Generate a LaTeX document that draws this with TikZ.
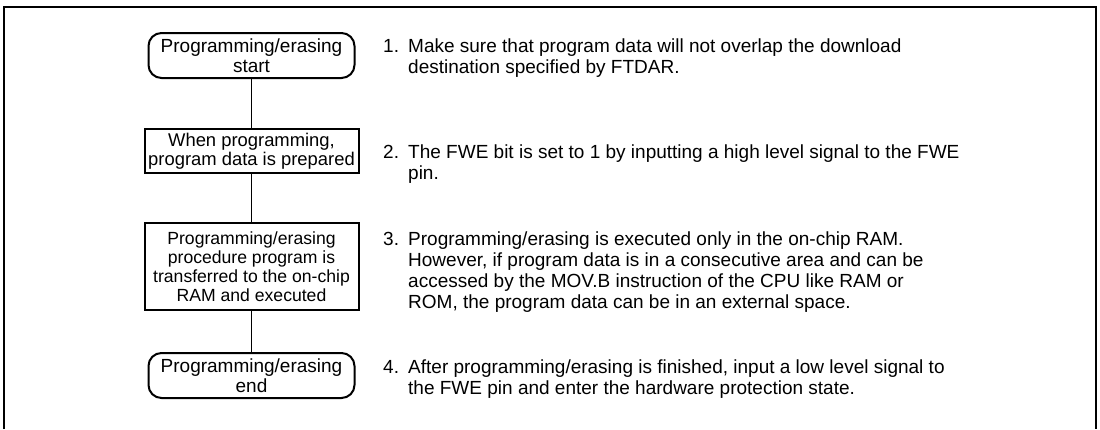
\documentclass[tikz,border=0pt]{standalone}
\usepackage{fontspec}
\setmainfont{Liberation Sans}
\newcommand{\boxfont}{\fontsize{19}{20}\selectfont}
\newcommand{\midfont}{\fontsize{18.4}{19.5}\selectfont}
\newcommand{\smallboxfont}{\fontsize{17.6}{19}\selectfont}
\newcommand{\descfont}{\fontsize{19}{21}\selectfont}
\begin{document}
\begin{tikzpicture}[x=1pt,y=-1pt,
  term/.style={draw, line width=2pt, rounded corners=13pt, align=center, inner sep=0pt,
    minimum width=206pt, minimum height=45pt, font=\boxfont},
  proc/.style={draw, line width=2pt, align=center, inner sep=0pt,
    minimum width=214pt},
  conn/.style={line width=1pt},
  desc/.style={anchor=base west, inner sep=0pt, font=\descfont}]
\useasboundingbox (0,0) rectangle (1100,429);
\draw[line width=2pt] (4,429) -- (4,7) -- (1096,7) -- (1096,429);

\node[term] (start) at (251.5,55.5) {Programming/erasing\\start};
\node[proc, minimum height=44pt, font=\midfont] (prep) at (251.5,151) {When programming,\\program data is prepared};
\node[proc, minimum height=87pt, font=\smallboxfont] (xfer) at (251.5,266.5) {Programming/erasing\\procedure program is\\transferred to the on-chip\\RAM and executed};
\node[term] (stop) at (251.5,375.5) {Programming/erasing\\end};

\draw[conn] (start) -- (prep);
\draw[conn] (prep) -- (xfer);
\draw[conn] (xfer) -- (stop);

\node[desc] (n1) at (383,52) {1.};
\node[desc] (t1a) at (408,52) {Make sure that program data will not overlap the download};
\node[desc] (t1b) at (408,73) {destination specified by FTDAR.};

\node[desc] (n2) at (383,158) {2.};
\node[desc] (t2a) at (408,158) {The FWE bit is set to 1 by inputting a high level signal to the FWE};
\node[desc] (t2b) at (408,179) {pin.};

\node[desc] (n3) at (383,245) {3.};
\node[desc] (t3a) at (408,245) {Programming/erasing is executed only in the on-chip RAM.};
\node[desc] (t3b) at (408,266) {However, if program data is in a consecutive area and can be};
\node[desc] (t3c) at (408,287) {accessed by the MOV.B instruction of the CPU like RAM or};
\node[desc] (t3d) at (408,308) {ROM, the program data can be in an external space.};

\node[desc] (n4) at (383,373) {4.};
\node[desc] (t4a) at (408,373) {After programming/erasing is finished, input a low level signal to};
\node[desc] (t4b) at (408,394) {the FWE pin and enter the hardware protection state.};
\end{tikzpicture}
\end{document}
